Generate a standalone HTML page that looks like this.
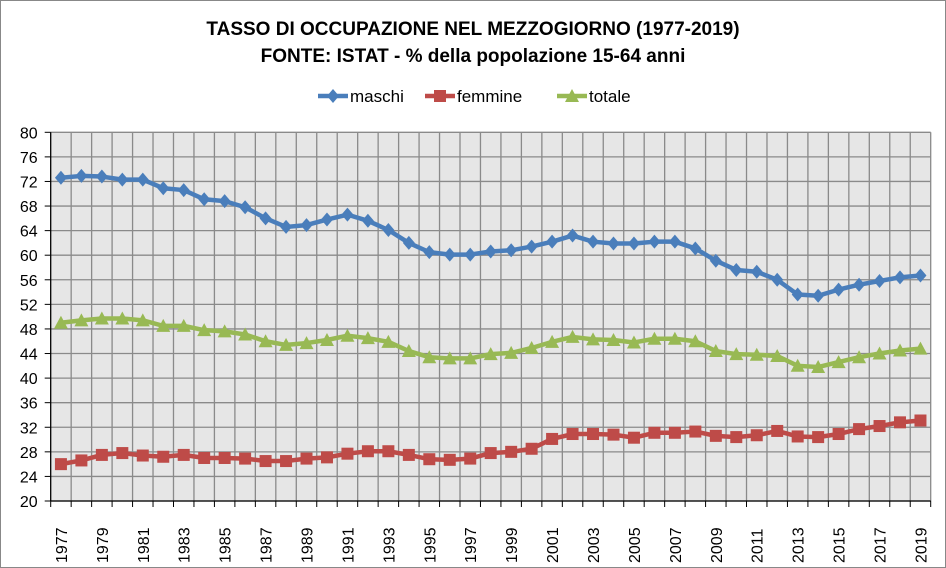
<!DOCTYPE html>
<html><head><meta charset="utf-8"><style>
body{margin:0;background:#fff}
svg{display:block;font-family:"Liberation Sans",sans-serif}
</style></head><body>
<svg id="c" width="946" height="568">
<rect x="0.5" y="0.5" width="945" height="567" fill="#fff" stroke="#888"/>
<text x="473" y="35" text-anchor="middle" font-size="19" font-weight="bold">TASSO DI OCCUPAZIONE NEL MEZZOGIORNO (1977-2019)</text>
<text x="473" y="62" text-anchor="middle" font-size="19" font-weight="bold">FONTE: ISTAT - % della popolazione 15-64 anni</text>
<g id="legend"></g>
<g id="plot"></g>
</svg>
<script>
const years=[];for(let y=1977;y<=2019;y++)years.push(y);
const maschi=[72.6,72.9,72.8,72.3,72.3,70.9,70.6,69.1,68.8,67.8,66.0,64.6,64.9,65.8,66.6,65.6,64.1,62.0,60.5,60.1,60.1,60.6,60.8,61.4,62.2,63.2,62.2,61.9,61.9,62.2,62.2,61.1,59.1,57.6,57.3,56.0,53.6,53.4,54.4,55.2,55.8,56.4,56.7];
const femmine=[26.0,26.6,27.5,27.8,27.4,27.2,27.5,27.0,27.0,26.9,26.5,26.5,26.9,27.1,27.7,28.1,28.1,27.5,26.8,26.7,26.9,27.8,28.0,28.5,30.1,30.9,30.9,30.8,30.3,31.1,31.1,31.3,30.6,30.4,30.7,31.4,30.5,30.4,30.9,31.7,32.2,32.8,33.1];
const totale=[49.0,49.4,49.7,49.7,49.4,48.5,48.5,47.8,47.6,47.1,46.0,45.4,45.7,46.2,46.9,46.5,45.9,44.4,43.4,43.2,43.2,43.9,44.1,44.9,45.9,46.7,46.3,46.2,45.8,46.4,46.4,46.0,44.4,43.9,43.8,43.6,42.0,41.8,42.6,43.4,44.0,44.5,44.8];
const yTicks=[20,24,28,32,36,40,44,48,52,56,60,64,68,72,76,80];
const L=50.7,R=930.7,T=132.3,B=501,yMin=20,yMax=80;
const NS='http://www.w3.org/2000/svg';
const plot=document.getElementById('plot');
const cw=(R-L)/years.length;
const X=i=>L+cw*(i+0.5);
const Y=v=>B-(v-yMin)/(yMax-yMin)*(B-T);
function el(t,a,p){const e=document.createElementNS(NS,t);for(const k in a)e.setAttribute(k,a[k]);(p||plot).appendChild(e);return e;}
const bg=el('rect',{x:L,y:T,width:R-L,height:B-T,fill:'#e6e6e6'});


for(let i=1;i<=years.length;i++){const g=el('line',{x1:L+cw*i,x2:L+cw*i,y1:T,y2:B,stroke:'#8a8a8a','stroke-width':1.3});

}
yTicks.forEach(t=>{const y=Y(t);
const g=el('line',{x1:L,x2:R,y1:y,y2:y,stroke:'#8a8a8a','stroke-width':1.3});


el('line',{x1:L-6,x2:L,y1:y,y2:y,stroke:'#000'});
const tx=el('text',{x:L-13,y:y+6,'text-anchor':'end','font-size':16});tx.textContent=t;

});
el('line',{x1:L,x2:L,y1:T,y2:B,stroke:'#000','stroke-width':1.3});
el('line',{x1:L,x2:R,y1:B,y2:B,stroke:'#000','stroke-width':1.3});
for(let i=0;i<=years.length;i++)el('line',{x1:L+cw*i,x2:L+cw*i,y1:B,y2:B+6,stroke:'#000'});
years.forEach((yr,i)=>{if(i%2)return;const x=X(i)+6;
const tx=el('text',{x:x,y:563,'font-size':16,transform:`rotate(-90 ${x} 563)`});tx.textContent=yr;

});
function marker(type,x,y,c,p){
 if(type==='d')return el('polygon',{points:`${x},${y-7} ${x+6},${y} ${x},${y+7} ${x-6},${y}`,fill:c},p);
 if(type==='s')return el('rect',{x:x-6,y:y-6,width:12,height:12,fill:c},p);
 return el('polygon',{points:`${x},${y-7} ${x+7},${y+6} ${x-7},${y+6}`,fill:c},p);}
const series=[['maschi',maschi,'#4a7ebb','d'],['femmine',femmine,'#be4b48','s'],['totale',totale,'#98b954','t']];
series.forEach(([n,d,c,m])=>{
 const pl=el('polyline',{points:d.map((v,i)=>X(i)+','+Y(v)).join(' '),fill:'none',stroke:c,'stroke-width':4.5,'stroke-linejoin':'round'});
 
 
 d.forEach((v,i)=>{const mk=marker(m,X(i),Y(v),c);
 
 });
});
const lg=document.getElementById('legend');
const lx=[318,425,557];
series.forEach(([n,d,c,m],k)=>{const x=lx[k],y=96;
 el('line',{x1:x,x2:x+30,y1:y,y2:y,stroke:c,'stroke-width':4.5},lg);
 marker(m,x+15,y,c,lg);
 const tx=el('text',{x:x+32,y:y+6,'font-size':17},lg);tx.textContent=n;
 
 });
</script>
</body></html>
